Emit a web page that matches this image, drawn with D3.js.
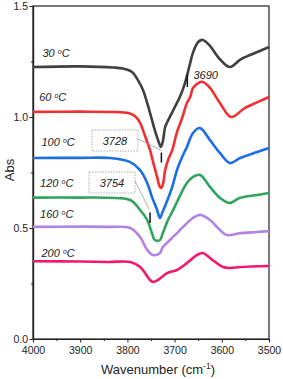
<!DOCTYPE html>
<html>
<head>
<meta charset="utf-8">
<script src="https://cdn.jsdelivr.net/npm/d3@7"></script>
<style>
  html, body { margin: 0; padding: 0; background: #fff; }
  svg { display: block; font-family: "Liberation Sans", Arial, sans-serif; }
  .lbl { font-style: italic; font-size: 11px; fill: #222; }
</style>
</head>
<body>
<svg width="283" height="379"></svg>
<script>
// spectra: [wavenumber, abs]
const s30 = [[4000,1.225],[3900,1.228],[3830,1.223],[3809,1.218],[3790,1.203],[3778,1.167],[3767,1.122],[3752,1.018],[3742,0.941],[3735,0.896],[3729,0.865],[3725,0.89],[3720,0.955],[3716,0.975],[3703,1.03],[3689,1.09],[3678,1.153],[3667,1.243],[3661,1.29],[3650,1.338],[3640,1.347],[3625,1.32],[3604,1.26],[3583,1.225],[3560,1.26],[3540,1.279],[3500,1.315]]
const s60 = [[4000,1.023],[3900,1.024],[3820,1.022],[3795,1.016],[3782,1.0],[3773,0.973],[3767,0.941],[3758,0.887],[3752,0.851],[3744,0.784],[3737,0.730],[3733,0.694],[3729,0.680],[3725,0.694],[3720,0.761],[3714,0.806],[3705,0.851],[3695,0.932],[3684,0.995],[3674,1.063],[3667,1.09],[3661,1.131],[3650,1.153],[3640,1.158],[3625,1.131],[3604,1.063],[3580,1.0],[3551,1.041],[3523,1.068],[3500,1.090]]
const s100 = [[4000,0.815],[3900,0.816],[3837,0.815],[3794,0.797],[3773,0.761],[3758,0.703],[3748,0.640],[3737,0.581],[3731,0.545],[3725,0.575],[3718,0.61],[3705,0.685],[3695,0.761],[3684,0.820],[3674,0.865],[3661,0.928],[3646,0.950],[3625,0.896],[3604,0.838],[3583,0.793],[3561,0.815],[3525,0.842],[3500,0.860]]
const s120 = [[4000,0.637],[3900,0.637],[3840,0.636],[3794,0.626],[3773,0.581],[3758,0.536],[3748,0.477],[3742,0.446],[3731,0.446],[3725,0.477],[3714,0.536],[3703,0.581],[3693,0.626],[3674,0.703],[3661,0.730],[3646,0.739],[3625,0.685],[3604,0.636],[3583,0.613],[3561,0.636],[3525,0.649],[3500,0.658]]
const s160 = [[4000,0.505],[3900,0.506],[3840,0.505],[3794,0.5],[3773,0.459],[3758,0.401],[3746,0.378],[3731,0.387],[3725,0.414],[3710,0.446],[3695,0.477],[3682,0.505],[3661,0.545],[3646,0.559],[3625,0.536],[3604,0.491],[3589,0.468],[3561,0.477],[3525,0.482],[3500,0.486]]
const s200 = [[4000,0.35],[3900,0.349],[3840,0.347],[3794,0.347],[3773,0.324],[3752,0.266],[3746,0.257],[3735,0.266],[3716,0.297],[3695,0.311],[3674,0.342],[3653,0.378],[3640,0.387],[3625,0.365],[3597,0.324],[3583,0.320],[3561,0.324],[3500,0.329]]

const temps = ["30", "60", "100", "120", "160", "200"]
const colors = ["#404040", "#f2302f", "#1c6ee6", "#2fa55c", "#b383e3", "#f5166f"]
const spectra = [s30, s60, s100, s120, s160, s200]
// label position in data units [wavenumber, abs]
const labelPos = [[3980,1.27],[3987,1.07],[3982,0.87],[3985,0.685],[3985,0.545],[3982,0.37]]

const xTicks = [4000, 3900, 3800, 3700, 3600, 3500]
const yTicks = [0.0, 0.5, 1.0, 1.5]

const svg = d3.select("svg")

const scaleX = d3.scaleLinear().domain([4000, 3500]).range([33, 269])
const scaleY = d3.scaleLinear().domain([0, 1.5]).range([339, 6])

// frame
svg.append("rect")
    .attr("x", 33).attr("y", 6)
    .attr("width", 236).attr("height", 333)
    .attr("fill", "none")
    .attr("stroke", "#222")
    .attr("stroke-width", 1.2)

// minor ticks first, then the major axes over them
const minorX = d3.axisBottom(scaleX).tickValues(d3.range(3950, 3500, -100)).tickSize(2).tickFormat("")
svg.append("g").attr("transform", "translate(0, 339)").call(minorX)
const minorY = d3.axisLeft(scaleY).tickValues([0.25, 0.75, 1.25]).tickSize(2).tickFormat("")
svg.append("g").attr("transform", "translate(33, 0)").call(minorY)

const axisX = d3.axisBottom(scaleX)
    .tickValues(xTicks)
    .tickSize(3.5)
    .tickSizeOuter(0)
    .tickPadding(4)
    .tickFormat(d3.format("d"))
svg.append("g").attr("class", "x-axis").attr("transform", "translate(0, 339)").call(axisX)

const axisY = d3.axisLeft(scaleY)
    .tickValues(yTicks)
    .tickSize(3.5)
    .tickSizeOuter(0)
    .tickPadding(1.5)
    .tickFormat(d3.format(".1f"))
svg.append("g").attr("class", "y-axis").attr("transform", "translate(33, 0)").call(axisY)

svg.selectAll(".x-axis text, .y-axis text")
    .attr("font-size", 10.5)
    .attr("fill", "#222")
    .attr("font-family", "Liberation Sans, Arial, sans-serif")
svg.selectAll(".domain").attr("stroke", "#222").attr("stroke-width", 1.2)
svg.selectAll(".tick line").attr("stroke", "#222")

// axis titles
const xt = svg.append("text")
    .attr("x", 158).attr("y", 374)
    .attr("text-anchor", "middle")
    .attr("font-size", 13)
    .attr("fill", "#222")
xt.append("tspan").text("Wavenumber (cm")
xt.append("tspan").attr("font-size", 8.5).attr("dy", -5).text("-1")
xt.append("tspan").attr("dy", 5).text(")")

svg.append("text")
    .attr("transform", "translate(14, 170) rotate(-90)")
    .attr("text-anchor", "middle")
    .attr("font-size", 13)
    .attr("fill", "#222")
    .text("Abs")

// spectra
const line = d3.line()
    .x(d => scaleX(d[0]))
    .y(d => scaleY(d[1]))
    .curve(d3.curveCatmullRom.alpha(0.5))

svg.selectAll("path.spec")
    .data(spectra)
    .enter()
    .append("path")
    .attr("class", "spec")
    .attr("d", line)
    .attr("fill", "none")
    .attr("stroke", (d, i) => colors[i])
    .attr("stroke-width", 2.6)
    .attr("stroke-linejoin", "round")

// temperature labels
temps.forEach((t, i) => {
    const tx = svg.append("text")
        .attr("class", "lbl")
        .attr("x", scaleX(labelPos[i][0]))
        .attr("y", scaleY(labelPos[i][1]))
    tx.append("tspan").text(t + " ")
    tx.append("tspan").attr("font-size", 7).attr("dy", -3).text("o")
    tx.append("tspan").attr("dy", 3).text("C")
})

// peak markers (drawn where the picture puts them)
const peakMarks = [
    {wn: 3673, y0: 1.135, y1: 1.19},
    {wn: 3728, y0: 0.795, y1: 0.84},
    {wn: 3752, y0: 0.523, y1: 0.57}
]
svg.selectAll("line.peak")
    .data(peakMarks)
    .enter()
    .append("line")
    .attr("class", "peak")
    .attr("x1", d => scaleX(d.wn)).attr("x2", d => scaleX(d.wn))
    .attr("y1", d => scaleY(d.y0)).attr("y2", d => scaleY(d.y1))
    .attr("stroke", "#111")
    .attr("stroke-width", 1.5)

svg.append("text")
    .attr("class", "lbl")
    .attr("x", scaleX(3660)).attr("y", scaleY(1.17))
    .text("3690")

// boxed callouts
const callouts = [
    {text: "3728", bx: 92, by: 130, tipWn: 3728, tipY: 0.85},
    {text: "3754", bx: 89, by: 172, tipWn: 3754, tipY: 0.585}
]
callouts.forEach(c => {
    svg.append("line")
        .attr("x1", c.bx + 46).attr("y1", c.by + 9)
        .attr("x2", scaleX(c.tipWn)).attr("y2", scaleY(c.tipY))
        .attr("stroke", "#999")
        .attr("stroke-width", 0.8)
    svg.append("rect")
        .attr("x", c.bx).attr("y", c.by)
        .attr("width", 46).attr("height", 21)
        .attr("fill", "#fff")
        .attr("stroke", "#999")
        .attr("stroke-width", 0.8)
        .attr("stroke-dasharray", "1.5,1.2")
    svg.append("text")
        .attr("class", "lbl")
        .attr("x", c.bx + 23).attr("y", c.by + 15)
        .attr("text-anchor", "middle")
        .text(c.text)
})
</script>
</body>
</html>
